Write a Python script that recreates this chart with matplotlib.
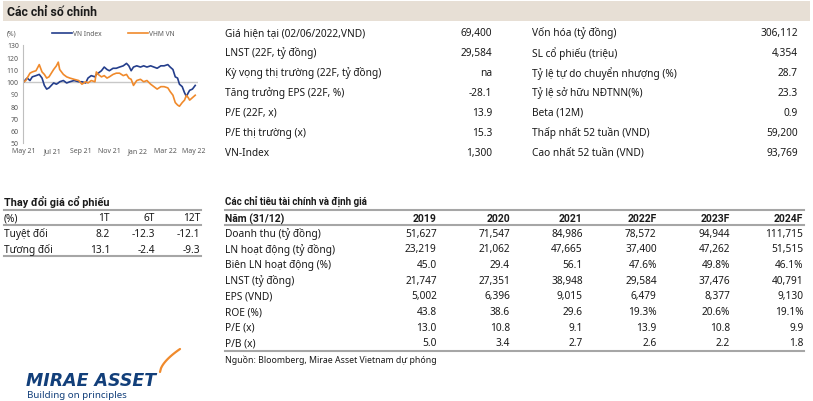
import numpy as np
import pandas as pd
import matplotlib
matplotlib.use("Agg")
import matplotlib.pyplot as plt
import matplotlib.dates as mdates

# ---- data -------------------------------------------------------------
start = pd.Timestamp("2021-05-01")
day_offsets = [0, 4, 7, 13, 18, 26, 33, 39, 44, 49, 54, 59, 64, 70, 74, 77, 85, 92,
               99, 108, 118, 125, 133, 138, 145, 153, 156, 160, 167, 173, 179, 184,
               192, 199, 206, 214, 221, 226, 231, 236, 243, 251, 258, 265, 273, 280,
               287, 295, 302, 310, 315, 321, 326, 331, 335, 341, 346, 350, 354, 357,
               363, 369]
vn_index = [100, 102, 103, 101, 104, 105, 106, 103, 97, 94, 95, 97, 99, 98, 99, 100,
            101, 99, 100, 101, 100, 100, 99, 103, 105, 104, 106, 107, 109, 112, 110,
            109, 111, 111, 112, 113, 115, 113, 109, 112, 113, 112, 113, 112, 113, 112,
            111, 113, 113, 114, 112, 110, 104, 103, 98, 96, 91, 88, 91, 93, 94, 97]
vhm_vn = [100, 101, 103, 107, 108, 109, 114, 108, 106, 103, 104, 107, 110, 113, 116,
          110, 106, 104, 103, 102, 101, 98, 100, 99, 101, 100, 108, 106, 104, 105, 103,
          104, 106, 107, 107, 105, 106, 103, 102, 97, 101, 102, 100, 101, 98, 96, 94,
          96, 96, 95, 92, 89, 83, 81, 80, 83, 85, 89, 87, 85, 87, 89]
dates = [start + pd.Timedelta(days=d) for d in day_offsets]

key_left = [("Giá hiện tại (02/06/2022,VND)", "69,400"),
            ("LNST (22F, tỷ đồng)", "29,584"),
            ("Kỳ vọng thị trường (22F, tỷ đồng)", "na"),
            ("Tăng trưởng EPS (22F, %)", "-28.1"),
            ("P/E (22F, x)", "13.9"),
            ("P/E thị trường (x)", "15.3"),
            ("VN-Index", "1,300")]
key_right = [("Vốn hóa (tỷ đồng)", "306,112"),
             ("SL cổ phiếu (triệu)", "4,354"),
             ("Tỷ lệ tự do chuyển nhượng (%)", "28.7"),
             ("Tỷ lệ sở hữu NĐTNN(%)", "23.3"),
             ("Beta (12M)", "0.9"),
             ("Thấp nhất 52 tuần (VND)", "59,200"),
             ("Cao nhất 52 tuần (VND)", "93,769")]

price_cols = ["1T", "6T", "12T"]
price_rows = [("Tuyệt đối", ["8.2", "-12.3", "-12.1"]),
              ("Tương đối", ["13.1", "-2.4", "-9.3"])]

fin_years = ["2019", "2020", "2021", "2022F", "2023F", "2024F"]
fin_rows = [("Doanh thu (tỷ đồng)", ["51,627", "71,547", "84,986", "78,572", "94,944", "111,715"]),
            ("LN hoạt động (tỷ đồng)", ["23,219", "21,062", "47,665", "37,400", "47,262", "51,515"]),
            ("Biên LN hoạt động (%)", ["45.0", "29.4", "56.1", "47.6%", "49.8%", "46.1%"]),
            ("LNST (tỷ đồng)", ["21,747", "27,351", "38,948", "29,584", "37,476", "40,791"]),
            ("EPS (VND)", ["5,002", "6,396", "9,015", "6,479", "8,377", "9,130"]),
            ("ROE (%)", ["43.8", "38.6", "29.6", "19.3%", "20.6%", "19.1%"]),
            ("P/E (x)", ["13.0", "10.8", "9.1", "13.9", "10.8", "9.9"]),
            ("P/B (x)", ["5.0", "3.4", "2.7", "2.6", "2.2", "1.8"])]

# ---- figure -----------------------------------------------------------
W, H = 813, 402
plt.rcParams['font.family'] = ['Noto Sans', 'DejaVu Sans']
fig = plt.figure(figsize=(W / 100, H / 100), dpi=100)
TXT = "#1a1a1a"
GRID = "#a6a6a6"
BOLD = ['Roboto', 'DejaVu Sans']


def fx(x):
    return x / W


def fy(y):
    return 1 - y / H


def put(x, y, s, ha="left", size=7.3, weight="normal", color=TXT, **kw):
    if weight == "bold":
        kw.setdefault("family", BOLD)
    fig.text(fx(x), fy(y), s, ha=ha, va="center", fontsize=size,
             fontweight=weight, color=color, **kw)


def hline(y, x0, x1, lw=1.5, color=GRID):
    fig.add_artist(plt.Line2D([fx(x0), fx(x1)], [fy(y), fy(y)], lw=lw, color=color))


# header band
fig.add_artist(plt.Rectangle((fx(3), fy(22)), fx(807), 20 / H, color="#e7dfd5", lw=0))
put(7, 12, "Các chỉ số chính", size=8.8, weight="bold")

# line chart
ax = fig.add_axes([fx(23), fy(144), fx(175), (144 - 46) / H])
ax.axhline(100, color="#c8c8c8", lw=1)
ax.plot(dates, vn_index, color="#243e8c", lw=1.2)
ax.plot(dates, vhm_vn, color="#f08a2c", lw=1.2)
ax.set_ylim(50, 130)
ax.set_yticks(range(50, 131, 10))
ax.set_xlim(start - pd.Timedelta(days=2), start + pd.Timedelta(days=375))
ax.xaxis.set_major_locator(mdates.MonthLocator(bymonth=[1, 3, 5, 7, 9, 11]))
ax.xaxis.set_major_formatter(mdates.DateFormatter("%b %y"))
for side in ["top", "right", "bottom"]:
    ax.spines[side].set_visible(False)
ax.spines["left"].set_color("#bfbfbf")
ax.spines["left"].set_linewidth(0.8)
ax.tick_params(axis="both", length=0, labelsize=5, colors="#595959", pad=3)
put(7, 34, "(%)", size=4.8, color="#595959")
fig.add_artist(plt.Line2D([fx(52), fx(72)], [fy(34), fy(34)], lw=1.2, color="#243e8c"))
put(73, 34, "VN Index", size=4.8, color="#595959")
fig.add_artist(plt.Line2D([fx(128), fx(148)], [fy(34), fy(34)], lw=1.2, color="#f08a2c"))
put(149, 34, "VHM VN", size=4.8, color="#595959")

# key figures
for i, (lab, val) in enumerate(key_left):
    y = 33.3 + i * 20
    put(225, y, lab)
    put(492, y, val, ha="right")
for i, (lab, val) in enumerate(key_right):
    y = 33.3 + i * 20
    put(532, y, lab)
    put(798, y, val, ha="right")

# price change table
put(4, 202, "Thay đổi giá cổ phiếu", weight="bold", size=7.8)
hline(210.5, 4, 201)
put(4, 219, "(%)")
for c, xr in zip(price_cols, [110, 155, 200]):
    put(xr, 219, c, ha="right")
hline(226, 4, 201)
for j, (lab, vals) in enumerate(price_rows):
    y = 234.5 + j * 16
    put(4, y, lab)
    for v, xr in zip(vals, [110, 155, 200]):
        put(xr, y, v, ha="right")
hline(257, 4, 201)

# financial table
col_x = [436.7, 510, 582.7, 656.7, 730, 803.3]
put(225, 201.7, "Các chỉ tiêu tài chính và định giá", weight="bold", size=7.0)
hline(210.5, 225, 804)
put(225, 219.3, "Năm (31/12)", weight="bold", size=7.5)
for yr, xr in zip(fin_years, col_x):
    put(xr, 219.3, yr, ha="right", weight="bold", size=7.5)
hline(226, 225, 804)
for j, (lab, vals) in enumerate(fin_rows):
    y = 234.3 + j * 15.67
    put(225, y, lab)
    for v, xr in zip(vals, col_x):
        put(xr, y, v, ha="right")
hline(352.3, 225, 804)
put(225, 360.7, "Nguồn: Bloomberg, Mirae Asset Vietnam dự phóng", size=6.3)

# logo
fig.text(fx(26), fy(381.5), "MIRAE ASSET", ha="left", va="center", fontsize=12.5,
         fontweight="bold", fontstyle="italic", family="DejaVu Sans", color="#123f7a")
put(27, 396, "Building on principles", size=7, color="#123f7a")
sw_t = np.linspace(0, 1, 20)
fig.add_artist(plt.Line2D([fx(160 + 20 * t) for t in sw_t],
                          [fy(373 - 23 * t ** 0.6) for t in sw_t],
                          lw=1.6, color="#f08a2c", solid_capstyle="round"))

fig.savefig("out.png", dpi=100)
